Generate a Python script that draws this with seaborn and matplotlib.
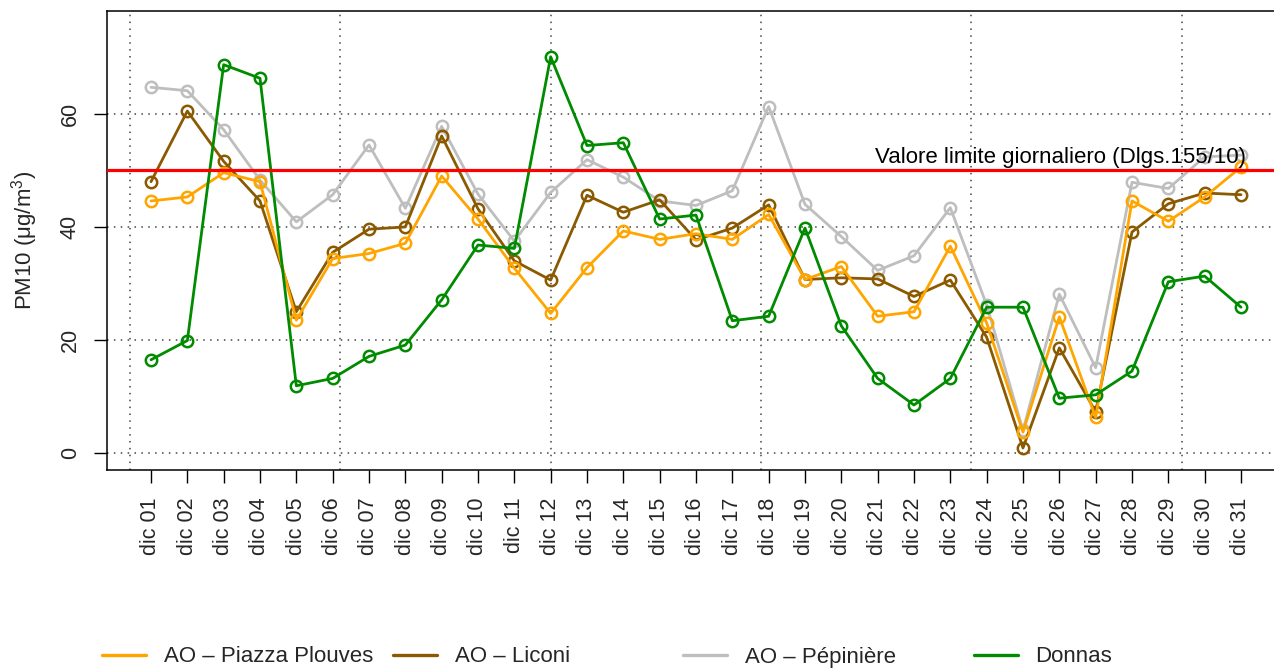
import numpy as np
import pandas as pd
import matplotlib
matplotlib.use("Agg")
import matplotlib.pyplot as plt
from matplotlib.lines import Line2D
import seaborn as sns

# PM10 daily means, December
days = list(range(1, 32))
day_labels = [f"dic {d:02d}" for d in days]

plouves = [44.6, 45.3, 49.6, 48.0, 23.5, 34.4, 35.3, 37.1, 49.0, 41.4, 32.7,
           24.7, 32.8, 39.3, 37.8, 38.8, 37.8, 42.2, 30.7, 33.0, 24.2, 25.0,
           36.6, 23.0, 3.7, 24.1, 6.3, 44.6, 41.0, 45.3, 50.6]
liconi = [48.0, 60.5, 51.6, 44.6, 25.0, 35.5, 39.6, 40.0, 56.1, 43.2, 34.0,
          30.6, 45.6, 42.6, 44.8, 37.7, 39.8, 43.9, 30.7, 31.0, 30.8, 27.7,
          30.6, 20.5, 0.9, 18.6, 7.3, 39.1, 44.1, 46.0, 45.7]
pepiniere = [64.7, 64.1, 57.2, 48.3, 40.9, 45.7, 54.5, 43.3, 57.8, 45.8, 37.5,
             46.1, 51.9, 48.8, 44.6, 43.8, 46.4, 61.3, 44.0, 38.3, 32.3, 34.9,
             43.4, 26.2, 4.0, 28.1, 15.1, 47.9, 46.8, 52.4, 52.7]
donnas = [16.5, 19.9, 68.7, 66.3, 11.9, 13.2, 17.1, 19.1, 27.1, 36.8, 36.2,
          70.1, 54.4, 54.9, 41.4, 42.1, 23.4, 24.2, 39.8, 22.5, 13.2, 8.5,
          13.2, 25.8, 25.8, 9.7, 10.3, 14.5, 30.3, 31.3, 25.8]

stations = ["AO – Piazza Plouves", "AO – Liconi", "AO – Pépinière", "Donnas"]
colors = ["#FFA500", "#8B5A00", "#BEBEBE", "#008B00"]
limit_value = 50
limit_label = "Valore limite giornaliero (Dlgs.155/10)"

df = pd.DataFrame({
    "day": days * 4,
    "pm10": plouves + liconi + pepiniere + donnas,
    "station": np.repeat(stations, len(days)),
})

sns.set_theme(style="white")
plt.rcParams["font.family"] = ["Liberation Sans", "DejaVu Sans"]
plt.rcParams["mathtext.fontset"] = "custom"
plt.rcParams["mathtext.rm"] = "Liberation Sans"
plt.rcParams["mathtext.it"] = "Liberation Sans"

fig = plt.figure(figsize=(12.74, 6.68), dpi=100)
W, H = 1274, 668
ax = fig.add_axes([107 / W, 1 - 470 / H, (W - 107) / W, (470 - 11) / H])

# dotted grid like R's grid()
grid_x = [0.42, 6.21, 12.0, 17.79, 23.58, 29.37]
for gx in grid_x:
    ax.axvline(gx, color="#444444", lw=1.1, ls=(0, (1, 3.5)), zorder=1)
for gy in [0, 20, 40, 60]:
    ax.axhline(gy, color="#444444", lw=1.1, ls=(0, (1, 3.5)), zorder=1)

draw_order = [2, 1, 0, 3]
for i in draw_order:
    sub = df[df["station"] == stations[i]]
    sns.lineplot(data=sub, x="day", y="pm10", ax=ax, color=colors[i],
                 marker="o", markersize=8.2, markerfacecolor="none",
                 markeredgecolor=colors[i], markeredgewidth=1.8,
                 lw=2.0, legend=False, zorder=3)

ax.axhline(limit_value, color="#FF0000", lw=2.3, zorder=4)
ax.text(31.14, 51.3, limit_label, ha="right", va="baseline",
        fontsize=16, color="black", zorder=5)

ax.set_xlim(-0.211, 1 + (W - 151) / 36.333)
ax.set_ylim(-3.0, 78.2)
ax.set_xticks(days)
ax.set_xticklabels(day_labels, rotation=90, fontsize=15.5)
ax.set_yticks([0, 20, 40, 60])
ax.set_yticklabels(["0", "20", "40", "60"], rotation=90, va="center", fontsize=15.5)
ax.tick_params(axis="both", direction="out", length=9.4, width=1.0, color="black",
               bottom=True, left=True)
ax.tick_params(axis="x", pad=10.5)
ax.tick_params(axis="y", pad=9.5)
ax.set_xlabel("")
ax.set_ylabel("PM10 (μg/m$^{3}$)", fontsize=16)
ax.yaxis.set_label_coords(-0.0574, 0.5)

for side in ["left", "top", "bottom"]:
    ax.spines[side].set_color("black")
    ax.spines[side].set_linewidth(1.1)
ax.spines["right"].set_visible(False)

# legend spread evenly along the bottom, as in the original
legend_x = [102 / W, 393 / W, 683 / W, 974 / W]
for i, name in enumerate(stations):
    h = Line2D([], [], color=colors[i], lw=2.4)
    fig.legend([h], [name], loc="center left", bbox_to_anchor=(legend_x[i], 1 - 657 / H),
               frameon=False, fontsize=16, handlelength=2.0, handletextpad=0.77,
               borderpad=0, borderaxespad=0)

fig.savefig("out.png", dpi=100)
